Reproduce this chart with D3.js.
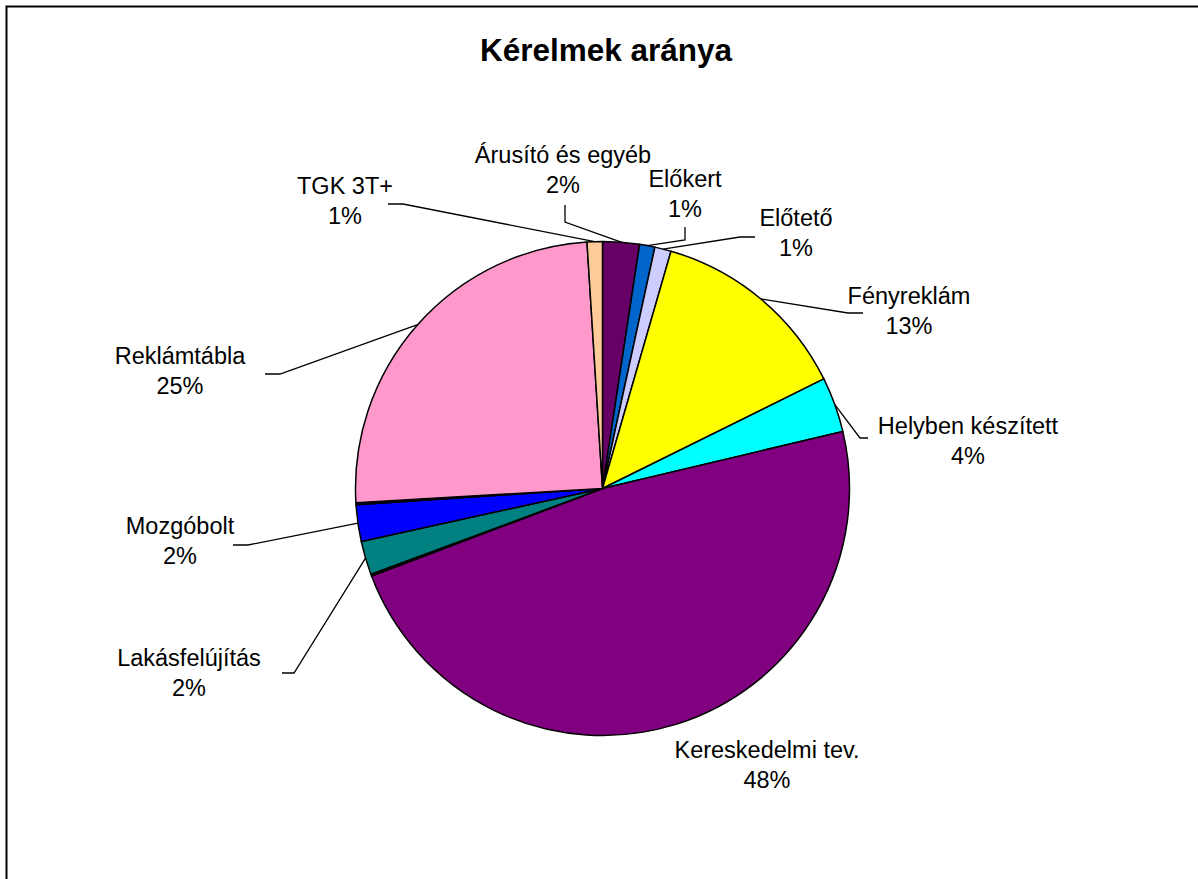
<!DOCTYPE html>
<html>
<head>
<meta charset="utf-8">
<script src="https://cdn.jsdelivr.net/npm/d3@7"></script>
<style>
  html, body { margin: 0; padding: 0; background: #fff; }
  svg { display: block; }
  text { font-family: "Liberation Sans", Arial, sans-serif; fill: #000; }
</style>
</head>
<body>
<script>
// ---- data ----
const categories = ["Árusító és egyéb", "Előkert", "Előtető", "Fényreklám", "Helyben készített",
  "Kereskedelmi tev.", "", "Lakásfelújítás", "Mozgóbolt", "", "Reklámtábla", "TGK 3T+"];
const values = [2.4, 1.0, 1.07, 13.2, 3.6, 47.9, 0.12, 2.2, 2.4, 0.12, 24.9, 1.0];
const colors = ["#660066", "#0066CC", "#CCCCFF", "#FFFF00", "#00FFFF", "#800080",
  "#800000", "#008080", "#0000FF", "#000080", "#FF99CC", "#FFCC99"];
const title = "Kérelmek aránya";

// ---- layout (label placement, not data) ----
// label: centre of first text line; lead: start of leader near label and elbow point
const labelLayout = [
  {x: 563, y: 157, lead: [[565, 205], [565, 222]]},
  {x: 685, y: 181, lead: [[685, 227], [685, 240]]},
  {x: 796, y: 220, lead: [[755, 237], [740, 237]]},
  {x: 909, y: 298, lead: [[863, 313], [848, 313]]},
  {x: 968, y: 428, lead: [[868, 438], [860, 438]]},
  {x: 767, y: 752, lead: null},
  null,
  {x: 189, y: 660, lead: [[282, 673], [294, 673]]},
  {x: 180, y: 528, lead: [[233, 545], [248, 545]]},
  null,
  {x: 180, y: 358, lead: [[265, 374], [280, 374]]},
  {x: 345, y: 188, lead: [[388, 204], [403, 204]]}
];

const W = 1198, H = 879;
const cx = 602.5, cy = 488.5, R = 247;

const svg = d3.select("body").append("svg").attr("width", W).attr("height", H);

// chart border (extends beyond the view on right & bottom)
svg.append("rect").attr("x", 6.5).attr("y", 6.5).attr("width", W + 20).attr("height", H + 20)
  .attr("fill", "#fff").attr("stroke", "#000").attr("stroke-width", 2);

svg.append("text").attr("x", 606).attr("y", 53).attr("text-anchor", "middle")
  .attr("dominant-baseline", "middle")
  .style("font-size", "31.5px").style("font-weight", "bold").text(title);

const total = d3.sum(values);
const pie = d3.pie().sort(null).value(d => d)(values);
const arc = d3.arc().innerRadius(0).outerRadius(R);

const g = svg.append("g").attr("transform", `translate(${cx},${cy})`);
g.selectAll("path.slice").data(pie).join("path")
  .attr("class", "slice")
  .attr("d", arc)
  .attr("fill", (d, i) => colors[i])
  .attr("stroke", "#000").attr("stroke-width", 1.5).attr("stroke-linejoin", "round");

const fmt = v => Math.round(v / total * 100) + "%";

pie.forEach((d, i) => {
  const L = labelLayout[i];
  if (!L || !categories[i]) return;
  const mid = (d.startAngle + d.endAngle) / 2;
  const px = cx + R * Math.sin(mid), py = cy - R * Math.cos(mid);
  if (L.lead) {
    const pts = [L.lead[0], L.lead[1], [px, py]];
    svg.append("path").attr("d", d3.line()(pts)).attr("fill", "none")
      .attr("stroke", "#000").attr("stroke-width", 1.3);
  }
  const t = svg.append("text").attr("text-anchor", "middle").style("font-size", "23.5px");
  t.append("tspan").attr("x", L.x).attr("y", L.y).attr("dominant-baseline", "middle").text(categories[i]);
  t.append("tspan").attr("x", L.x).attr("y", L.y + 30).attr("dominant-baseline", "middle").text(fmt(values[i]));
});
</script>
</body>
</html>
